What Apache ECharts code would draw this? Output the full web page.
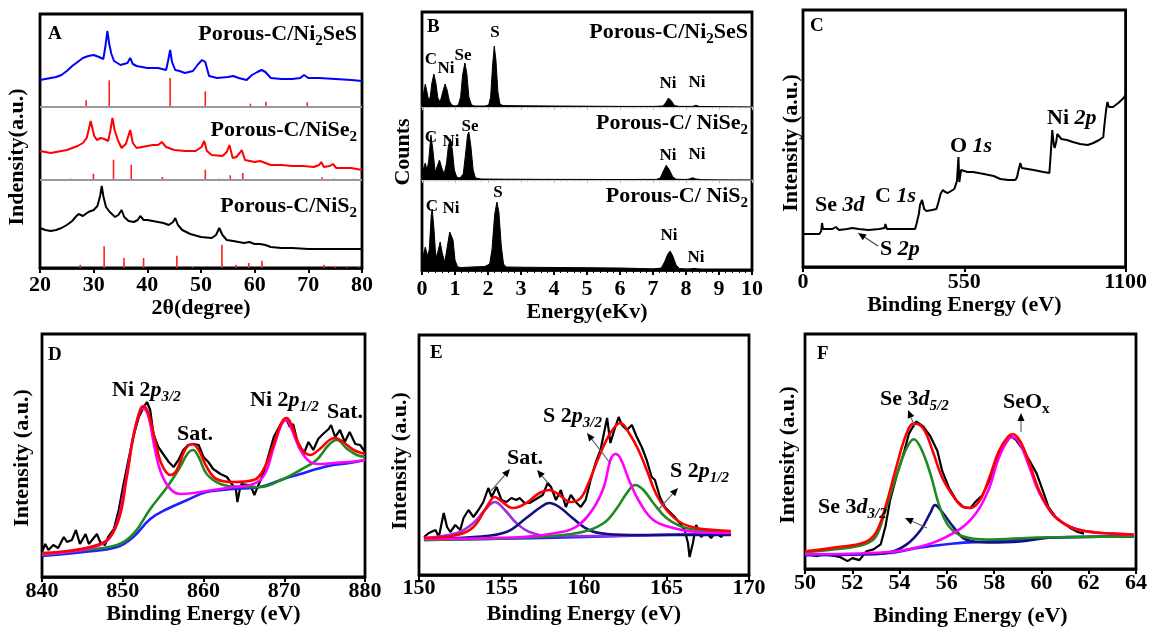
<!DOCTYPE html>
<html><head><meta charset="utf-8">
<script src="https://cdn.jsdelivr.net/npm/echarts@6/dist/echarts.min.js"></script>
<style>html,body{margin:0;padding:0;background:#fff}#c{width:1150px;height:628px}</style>
</head><body><div id="c"></div><script>
const FONT = "'Liberation Serif','Times New Roman',serif";

// ---------- Panel A : XRD (intensity in a.u., stacked) ----------
const aBlue = [[20,188],[21,189],[22,190],[23,191],[24,193],[25,197],[26,202],[27,206],[28,210],[29,212],[30,213],[31,211],[31.8,209],[32.2,222],[32.55,237],[32.9,224],[33.3,214],[33.8,207],[35,203],[36.3,205],[36.8,210],[37.3,204],[38,202],[40,200],[42,200],[43.5,198],[43.9,208],[44.25,218],[44.6,206],[45.2,198],[46,197],[47,195],[48.5,197],[49.5,204],[50.2,208],[50.8,206],[51.5,192],[53,190],[55,191],[56,192],[57,190],[58.5,188],[59.5,193],[60.5,196],[61.3,198],[62,196],[63,190],[65,189],[67,189],[68.5,190],[69.2,193],[70,190],[72,190],[75,189],[78,188],[80,187]];
const aRed = [[20,117],[21,116],[22,115],[23,116],[24,117],[25,118],[26,120],[27,122],[28,125],[28.7,130],[29.45,147],[30.1,132],[30.6,128],[31.3,130],[32,129],[32.7,127],[33.1,137],[33.5,150],[33.9,138],[34.5,128],[35.2,120],[36,124],[36.8,138],[37.3,125],[38,120],[39,121],[40,122],[41,123],[42,123],[42.7,126],[43.5,121],[45,118],[47,117],[49,117],[50.1,121],[50.6,127],[51.1,117],[52,113],[54,112],[54.8,116],[55.3,123],[55.9,110],[56.6,111],[57.2,115],[57.6,118],[58.2,108],[60,106],[61,107],[61.5,106],[63,103],[65,103],[67,102],[69,102],[71,101],[72,103],[72.4,106],[72.9,101],[74,102],[74.6,104],[75.2,100],[78,100],[80,98]];
const aBlack = [[20,40],[21,38],[22,37],[23,38],[24,40],[25,43],[26,47],[26.8,52],[27.2,54],[28,52],[29,56],[30,58],[30.7,62],[31.2,72],[31.5,82],[31.8,72],[32.3,61],[33,56],[34,51],[34.6,53],[35.2,58],[35.7,51],[36.5,47],[37.5,46],[38.2,48],[38.7,52],[39.3,48],[40,48],[41,47],[42,46],[43,45],[44,43],[44.8,46],[45.2,50],[45.7,43],[46.5,38],[48,34],[50,31],[52,30],[52.8,33],[53.4,40],[54,33],[54.8,28],[56,27],[57,26],[58,25],[59,26],[60,24],[61,24],[62,23],[63,21],[65,20],[67,20],[70,19],[75,19],[80,19]];
const aLevels = [161, 88, 0];            // baselines of the three reference patterns
const aStickPos1 = [28.6,32.9,44.25,50.8,59.2,62.1,69.8];
const aStickTop1 = [167.7,187.7,190,176.7,164.3,166.3,165.7];
const aStickPos2 = [25.8,29.95,33.7,37.0,42.8,50.8,53.3,55.45,57.8,62.1,72.55,74.7,78.5];
const aStickTop2 = [89.3,94.3,108.3,103.3,91,98.3,89.3,92.7,95,89,90.7,89.3,89.3];
const aStickPos3 = [27.5,31.95,35.65,39.3,45.5,48.4,53.9,56.5,58.9,61.35,72.9,75.0,77.2,79.4];
const aStickTop3 = [3.3,21.7,10,10,12.3,1,23.3,3.3,5,7.3,3.3,1.7,1.7,0.7];

// ---------- Panel B : EDS ----------
const bNi2SeS = [[0,4],[0.05,14],[0.1,23],[0.15,15],[0.2,7],[0.25,10],[0.3,24],[0.36,33],[0.42,24],[0.48,9],[0.55,5],[0.62,14],[0.7,23],[0.76,17],[0.83,6],[0.9,2],[1.0,1],[1.1,2],[1.17,10],[1.23,32],[1.3,44],[1.36,33],[1.42,10],[1.5,2],[1.6,1],[1.9,1],[2.02,2],[2.08,10],[2.14,42],[2.19,61],[2.24,47],[2.3,15],[2.36,3],[2.45,1.5],[3,1.2],[4,1],[5,0.8],[6,0.6],[7,0.6],[7.3,1],[7.38,4],[7.47,9],[7.56,6],[7.65,1.5],[7.8,0.6],[8.2,0.6],[8.3,1.7],[8.4,0.6],[9,0.3],[10,0]];
const bNiSe2 = [[0,4],[0.05,12],[0.1,17],[0.15,10],[0.2,18],[0.27,45],[0.33,30],[0.4,8],[0.46,10],[0.53,20],[0.6,12],[0.67,6],[0.74,16],[0.8,34],[0.86,41],[0.92,30],[0.98,10],[1.05,3],[1.15,2],[1.25,6],[1.32,26],[1.38,45],[1.42,48],[1.48,34],[1.55,10],[1.62,2],[1.8,1],[2.5,0.8],[4,0.6],[6,0.5],[7.1,0.6],[7.22,2],[7.3,8],[7.4,14.7],[7.5,10],[7.6,3],[7.7,0.8],[8.0,0.5],[8.1,1],[8.2,2.3],[8.3,1],[8.5,0.3],[9,0.1],[10,0]];
const bNiS2 = [[0,5],[0.05,16],[0.1,23],[0.16,14],[0.22,20],[0.28,55],[0.31,61],[0.36,42],[0.42,12],[0.48,18],[0.55,28],[0.62,16],[0.69,8],[0.76,22],[0.84,38],[0.88,40],[0.94,30],[1.0,10],[1.08,3],[1.2,2.5],[1.5,3],[1.9,3.5],[2.05,6],[2.12,20],[2.2,55],[2.27,68],[2.33,58],[2.4,25],[2.47,6],[2.55,3],[3,2.8],[4,2.5],[5,2.3],[6,2],[6.6,1.5],[7,1],[7.25,2],[7.35,8],[7.45,16],[7.52,19],[7.6,14],[7.7,5],[7.8,1.5],[8.0,0.8],[8.15,1],[8.25,1.7],[8.35,1],[8.5,0.5],[9,0.2],[10,0]];

// ---------- Panel C : XPS survey ----------
const cSurvey = [[0,33],[56,33],[62,36],[65,44],[68,38],[73,38],[100,38],[112,40],[123,37],[150,38],[168,39],[190,38],[224,37],[260,38],[278,39],[281,43],[286,38],[330,38],[382,38],[387,43],[395,53],[399,62],[406,67],[410,62],[413,58],[421,56],[440,57],[455,58],[462,65],[469,73],[477,77],[485,75],[494,74],[505,76],[516,78],[525,86],[530,110],[533,85],[539,97],[550,96],[561,95],[580,95],[617,93],[650,91],[673,88],[700,87],[724,87],[730,90],[735,97],[741,104],[746,99],[750,98],[786,97],[820,95],[840,94],[844,110],[850,137],[853,128],[855,123],[858,119],[861,118],[864,126],[867,133],[870,131],[873,131],[881,128],[900,127],[920,125],[945,123],[971,122],[990,124],[1010,127],[1024,130],[1027,140],[1030,148],[1034,158],[1038,165],[1043,160],[1049,158],[1057,160],[1066,162],[1075,164],[1086,167],[1093,169],[1100,172]];

// ---------- Panel D : Ni 2p ----------
const dRaw = [[840,25],[840.4,33],[840.8,27],[841.4,32],[842,29],[842.7,40],[843.1,35],[843.7,37],[844.2,47],[844.7,33],[845.4,43],[845.8,33],[846.3,38],[846.8,43],[847.2,35],[847.8,32],[848.2,40],[848.9,48],[849.5,67],[850.1,93],[850.7,117],[851.3,140],[852,160],[852.6,170],[853,175],[853.4,167],[853.8,143],[854.4,130],[855,123],[855.7,115],[856.3,110],[856.9,117],[857.5,127],[858.1,132],[858.8,133],[859.4,132],[860,120],[860.6,115],[861.2,108],[862.1,103],[862.9,100],[863.5,93],[864,88],[864.2,75],[864.5,88],[864.7,93],[865.6,92],[866,88],[866.3,82],[866.6,88],[866.8,92],[867.4,103],[868,120],[868.7,140],[869.5,152],[870.2,159],[870.7,150],[871.1,153],[871.8,130],[872.4,123],[873,135],[873.6,127],[874.2,138],[874.8,143],[875.5,148],[875.8,152],[876.3,140],[876.9,147],[877.5,135],[878.1,145],[878.8,133],[879.4,132],[880,125]];
const dEnvelope = [[840,24],[847.2,33],[849.3,53],[850.5,100],[851.3,140],[852.2,168],[852.6,171],[853.2,163],[854,137],[854.8,113],[855.9,102],[856.7,107],[857.7,127],[858.6,133],[859.4,127],[860.4,110],[861.6,98],[863.7,95],[866.2,97],[867.4,107],[868.7,133],[869.7,155],[870.3,159],[870.9,152],[872,130],[873.2,122],[874.4,128],[875.6,137],[876.3,139],[877.3,135],[878.6,127],[880,123]];
const dMain = [[840,23],[847.2,32],[849.1,50],[850.3,93],[851.3,140],[852.2,167],[852.6,168],[853.2,160],[854,127],[854.8,103],[855.9,88],[857.1,83],[858.8,84],[861.2,87],[863.7,90],[866.2,93],[867.6,103],[868.7,130],[869.7,153],[870.3,157],[870.9,148],[872,127],[873.2,115],[874.4,113],[876.1,114],[878.1,115],[880,117]];
const dSat = [[840,22],[845.2,27],[849.3,32],[851.3,43],[853.4,68],[855.5,90],[857.1,110],[858,123],[858.7,127],[859.4,120],[860.4,103],[862.1,93],[864.5,90],[867,90],[869.9,98],[872,107],[874,117],[875.5,132],[876.5,137],[877.8,128],[879,122],[880,120]];
const dBack = [[840,21],[845.2,25],[849.3,30],[851.3,40],[853.4,58],[855.5,68],[858,77],[860.4,85],[863.7,88],[867,90],[869.9,98],[872,103],[874,108],[876.1,112],[878.1,114],[880,117]];

// ---------- Panel E : S 2p ----------
const eRaw = [[150.3,38],[150.6,42],[151,45],[151.2,38],[151.5,62],[151.7,48],[151.9,43],[152.2,50],[152.5,45],[152.7,57],[153,65],[153.3,58],[153.6,65],[153.9,73],[154.2,87],[154.4,78],[154.7,88],[155,75],[155.3,73],[155.6,77],[155.9,75],[156.1,77],[156.4,72],[156.7,72],[157.1,76],[157.5,80],[157.8,92],[158,88],[158.3,75],[158.6,85],[158.9,68],[159.2,80],[159.5,73],[159.8,68],[160.1,75],[160.4,95],[160.7,112],[161,125],[161.4,157],[161.6,132],[161.8,143],[162.1,158],[162.3,150],[162.6,145],[162.9,150],[163.2,138],[163.5,128],[163.8,115],[164.1,98],[164.3,95],[164.6,78],[164.9,68],[165.2,63],[165.5,58],[165.8,52],[166.1,45],[166.3,32],[166.4,18],[166.6,32],[166.8,50],[167.1,38],[167.4,43],[167.7,37],[168,43],[168.3,38],[168.6,43],[168.9,40]];
const eEnvelope = [[150.3,37],[152.3,40],[153.3,48],[154.1,68],[154.6,78],[154.9,75],[155.7,67],[156.5,72],[157.3,82],[157.9,85],[158.5,80],[159.2,73],[159.8,77],[160.3,93],[160.9,118],[161.6,142],[162.2,152],[162.8,140],[163.3,125],[163.8,105],[164.4,80],[165,65],[165.8,53],[166.8,47],[167.9,45],[168.9,44]];
const eSat1 = [[150.3,37],[152.3,42],[153.3,52],[154,65],[154.6,73],[155.2,65],[155.9,52],[156.7,43],[157.9,39],[160.3,39],[164.4,40],[168.9,41]];
const eSat2 = [[150.3,36],[153.3,38],[155.3,43],[156.5,57],[157.3,67],[157.9,72],[158.5,68],[159.3,57],[160.3,45],[161.4,41],[163.4,40],[168.9,40]];
const eP32 = [[150.3,36],[156.3,38],[158.3,42],[159.5,48],[160.5,65],[161.2,88],[161.6,115],[161.9,121],[162.2,117],[162.8,92],[163.4,72],[164.2,55],[165.4,47],[166.8,43],[168.9,42]];
const eP12 = [[150.3,35],[157.3,38],[159.9,43],[161.2,52],[162,67],[162.6,82],[163.1,90],[163.6,85],[164.2,72],[165,57],[166,48],[167.4,44],[168.9,42]];
const eBack = [[150.3,35],[160,38],[168.9,42]];

// ---------- Panel F : Se 3d ----------
const fRaw = [[50,15],[50.3,14],[50.5,13],[50.8,15],[51,14],[51.3,13],[51.5,12],[51.8,8],[52,11],[52.3,9],[52.6,18],[52.9,20],[53.2,25],[53.4,43],[53.6,70],[53.9,97],[54.2,120],[54.4,138],[54.7,150],[55,145],[55.3,135],[55.6,120],[55.8,100],[56.1,82],[56.4,70],[56.7,63],[57,62],[57.2,68],[57.5,75],[57.8,90],[58.1,112],[58.4,125],[58.7,135],[58.9,132],[59.2,122],[59.5,110],[59.8,97],[60.1,77],[60.3,63],[60.6,53],[60.9,47],[61.2,42],[61.5,38],[61.8,36]];
const fEnvelope = [[50,18],[51.3,22],[52.5,27],[53,37],[53.4,63],[53.9,107],[54.3,138],[54.6,148],[55,143],[55.4,120],[55.8,93],[56.3,73],[56.7,63],[57,62],[57.4,70],[57.8,93],[58.2,120],[58.6,135],[58.8,137],[59.1,130],[59.5,107],[59.9,80],[60.5,55],[61.2,43],[62,38],[63,36],[63.9,35]];
const fD52 = [[50,17],[51.3,20],[52.5,25],[53,33],[53.4,60],[53.9,97],[54.3,123],[54.6,132],[54.9,123],[55.3,97],[55.7,63],[56.1,43],[56.7,33],[57.7,30],[59.8,32],[63.9,33]];
const fD32 = [[50,15],[52.7,15],[53.6,17],[54.3,25],[54.9,40],[55.3,57],[55.5,65],[55.8,58],[56.3,42],[56.8,30],[57.7,27],[59.1,28],[60.5,32],[63.9,33]];
const fSeOx = [[50,15],[53.4,17],[54.9,23],[56,33],[57,50],[57.7,77],[58.2,113],[58.6,132],[58.8,134],[59.1,127],[59.5,103],[59.9,78],[60.5,55],[61.2,43],[62,38],[63,36],[63.9,35]];
const fBack = [[50,14],[53.4,16],[54.9,22],[56.3,26],[57.7,28],[59.1,30],[60.5,32],[63.9,33]];

// ---------- helpers ----------
const lab = (sz) => ({color:'#000', fontFamily:FONT, fontWeight:'bold', fontSize:sz});
function xAx(gi, min, max, interval, name, margin, gap, extra) {
  return Object.assign({
    type:'value', gridIndex:gi, min, max, interval,
    axisLine:{show:true, onZero:false, lineStyle:{color:'#000', width:2.5}},
    axisTick:{show:true, inside:false, length:5, lineStyle:{color:'#000', width:2}},
    axisLabel:Object.assign(lab(22), {margin, formatter:(v)=>String(v)}),
    splitLine:{show:false},
    name, nameLocation:'middle', nameGap:gap, nameTextStyle:lab(22)
  }, extra || {});
}
function yAx(gi, max) {
  return {type:'value', gridIndex:gi, min:0, max, show:true,
    axisLine:{show:false}, axisTick:{show:false}, axisLabel:{show:false}, splitLine:{show:false}};
}
function ln(gi, data, color, width, smooth, extra) {
  return Object.assign({type:'line', xAxisIndex:gi, yAxisIndex:gi, data, showSymbol:false, symbol:'none',
    smooth: smooth || false, lineStyle:{color, width}, silent:true}, extra || {});
}
function sticks(gi, pos, tops, base, color) {
  return {type:'custom', xAxisIndex:gi, yAxisIndex:gi, silent:true, z:1,
    data: pos.map((p,i)=>[p, base, tops[i]]),
    encode:{x:0, y:[1,2]},
    renderItem:(params, api)=>{
      const a = api.coord([api.value(0), api.value(1)]);
      const b = api.coord([api.value(0), api.value(2)]);
      return {type:'line', shape:{x1:a[0], y1:a[1], x2:b[0], y2:b[1]}, style:{stroke:color, lineWidth:1.6}};
    }};
}
function area(gi, data) {
  return ln(gi, data, '#000', 1, false, {areaStyle:{color:'#000', origin:'start', opacity:1}});
}
function richFor(size, sub) {
  const base = {fontFamily:FONT, fontWeight:'bold', fontSize:size, lineHeight:size+8, fill:'#000'};
  const s = {fontFamily:FONT, fontWeight:'bold', fontSize:sub, lineHeight:sub, verticalAlign:'bottom', fill:'#000'};
  return {n:base, i:Object.assign({}, base, {fontStyle:'italic'}), s:s, si:Object.assign({}, s, {fontStyle:'italic'})};
}
const R22 = richFor(22, 15), R17 = richFor(17, 12), R19 = richFor(19, 13);
function txt(x, y, text, align, rich) {
  return {type:'text', x, y, silent:true, z:100,
    style:{text, rich: rich || R22, align: align || 'left', verticalAlign:'middle', textAlign: align || 'left', textVerticalAlign:'middle', fill:'#000',
      fontFamily:FONT, fontWeight:'bold', fontSize:22}};
}
function vtxt(x, y, text) {
  return {type:'text', x, y, rotation:Math.PI/2, silent:true, z:100,
    style:{text, align:'center', verticalAlign:'middle', textAlign:'center', textVerticalAlign:'middle', fill:'#000',
      fontFamily:FONT, fontWeight:'bold', fontSize:22}};
}
function arrow(x1, y1, x2, y2, color) {
  const ang = Math.atan2(y2-y1, x2-x1), L = 8, W = 3.5;
  const bx = x2 - L*Math.cos(ang), by = y2 - L*Math.sin(ang);
  const px = -Math.sin(ang)*W, py = Math.cos(ang)*W;
  return [
    {type:'line', silent:true, z:100, shape:{x1, y1, x2:bx, y2:by}, style:{stroke:color || '#666', lineWidth:1.2}},
    {type:'polygon', silent:true, z:100, shape:{points:[[x2,y2],[bx+px,by+py],[bx-px,by-py]]}, style:{fill:'#000'}}
  ];
}

const border = {show:true, borderColor:'#000', borderWidth:2.8, backgroundColor:'transparent'};
const grids = [
  Object.assign({left:40, top:14, width:322, height:254}, border),     // 0 A
  Object.assign({left:422, top:12, width:330, height:258}, border),    // 1 B frame
  {left:422, top:12, width:330, height:95},                            // 2 B1
  {left:422, top:107, width:330, height:73},                           // 3 B2
  {left:422, top:180, width:330, height:90},                           // 4 B3
  Object.assign({left:803, top:10, width:327, height:257}, border),    // 5 C
  Object.assign({left:42, top:334, width:323, height:243}, border),    // 6 D
  Object.assign({left:419, top:335, width:330, height:240}, border),   // 7 E
  Object.assign({left:805, top:334, width:332, height:239}, border)    // 8 F
];
const divAxis = (gi) => ({type:'value', gridIndex:gi, min:0, max:10, interval:1,
  axisLine:{show:true, onZero:false, lineStyle:{color:'#bdbdbd', width:1.5}},
  axisTick:{show:true, length:3, lineStyle:{color:'#bdbdbd', width:1}},
  minorTick:{show:true, splitNumber:5, length:2, lineStyle:{color:'#cfcfcf', width:1}},
  axisLabel:{show:false}, splitLine:{show:false}});

const xAxes = [
  xAx(0, 20, 80, 10, '2θ(degree)', 6, 28),
  {type:'value', gridIndex:1, min:0, max:10, show:false},
  divAxis(2),
  divAxis(3),
  xAx(4, 0, 10, 1, 'Energy(eKv)', 8, 28, {minorTick:{show:true, splitNumber:5, length:3, lineStyle:{color:'#000', width:1}}}),
  xAx(5, 0, 1100, 550, 'Binding Energy (eV)', 4, 19),
  xAx(6, 840, 880, 10, 'Binding Energy (eV)', 3, 22),
  xAx(7, 150, 170, 5, 'Binding Energy (eV)', 2, 28),
  xAx(8, 50, 64, 2, 'Binding Energy (eV)', 3, 36)
];
const yAxes = [yAx(0,254), {type:'value', gridIndex:1, min:0, max:1, show:false}, yAx(2,95), yAx(3,73), yAx(4,90),
  yAx(5,257), yAx(6,243), yAx(7,240), yAx(8,239)];

const series = [
  // A
  sticks(0, aStickPos1, aStickTop1, aLevels[0], '#ff2020'),
  sticks(0, aStickPos2, aStickTop2, aLevels[1], '#ff2020'),
  sticks(0, aStickPos3, aStickTop3, aLevels[2], '#ff2020'),
  ln(0, aBlue, '#0000ff', 2),
  ln(0, aRed, '#ff0000', 2),
  ln(0, aBlack, '#000', 2, false, {markLine:{silent:true, symbol:['none','none'], label:{show:false},
    lineStyle:{color:'#9a9a9a', width:2, type:'solid'}, data:[{yAxis:aLevels[0]},{yAxis:aLevels[1]}]}}),
  // B
  area(2, bNi2SeS), area(3, bNiSe2), area(4, bNiS2),
  // C
  ln(5, cSurvey, '#000', 2),
  // D
  ln(6, dRaw, '#000', 2.2),
  ln(6, dBack, '#1f1fff', 2.6, 0.4),
  ln(6, dSat, '#1f8a1f', 2.6, 0.4),
  ln(6, dMain, '#ff00ff', 2.6, 0.4),
  ln(6, dEnvelope, '#ff0000', 2.6, 0.4),
  // E
  ln(7, eRaw, '#000', 2.2),
  ln(7, eBack, '#1f1fff', 2.6, 0.4),
  ln(7, eSat1, '#9b30e6', 2.6, 0.4),
  ln(7, eSat2, '#12127f', 2.6, 0.4),
  ln(7, eP12, '#1f8a1f', 2.6, 0.4),
  ln(7, eP32, '#ff00ff', 2.6, 0.4),
  ln(7, eEnvelope, '#ff0000', 2.6, 0.4),
  // F
  ln(8, fRaw, '#000', 2.2),
  ln(8, fBack, '#1f1fff', 2.6, 0.4),
  ln(8, fD32, '#12127f', 2.6, 0.4),
  ln(8, fD52, '#1f8a1f', 2.6, 0.4),
  ln(8, fSeOx, '#ff00ff', 2.6, 0.4),
  ln(8, fEnvelope, '#ff0000', 2.6, 0.4)
];

const graphics = [
  // A
  txt(48, 34, '{n|A}', 'left', R19),
  txt(357, 34, '{n|Porous-C/Ni}{s|2}{n|SeS}', 'right'),
  txt(357, 130, '{n|Porous-C/NiSe}{s|2}', 'right'),
  txt(357, 206, '{n|Porous-C/NiS}{s|2}', 'right'),
  vtxt(17, 157, 'Indensity(a.u.)'),
  // B
  txt(427, 27, '{n|B}', 'left', R19),
  txt(748, 32, '{n|Porous-C/Ni}{s|2}{n|SeS}', 'right'),
  txt(748, 123, '{n|Porous-C/ NiSe}{s|2}', 'right'),
  txt(748, 196, '{n|Porous-C/ NiS}{s|2}', 'right'),
  txt(431, 60, '{n|C}', 'center', R17), txt(446, 69, '{n|Ni}', 'center', R17), txt(463, 56, '{n|Se}', 'center', R17),
  txt(495, 33, '{n|S}', 'center', R17), txt(668, 84, '{n|Ni}', 'center', R17), txt(697, 83, '{n|Ni}', 'center', R17),
  txt(431, 138, '{n|C}', 'center', R17), txt(451, 142, '{n|Ni}', 'center', R17), txt(470, 127, '{n|Se}', 'center', R17),
  txt(668, 156, '{n|Ni}', 'center', R17), txt(697, 155, '{n|Ni}', 'center', R17),
  txt(432, 207, '{n|C}', 'center', R17), txt(451, 209, '{n|Ni}', 'center', R17), txt(498, 193, '{n|S}', 'center', R17),
  txt(669, 236, '{n|Ni}', 'center', R17), txt(696, 258, '{n|Ni}', 'center', R17),
  vtxt(403, 152, 'Counts'),
  // C
  txt(810, 26, '{n|C}', 'left', R19),
  txt(1047, 118, '{n|Ni }{i|2p}'),
  txt(950, 146, '{n|O }{i|1s}'),
  txt(875, 196, '{n|C }{i|1s}'),
  txt(815, 205, '{n|Se }{i|3d}'),
  txt(880, 249, '{n|S }{i|2p}'),
  ...arrow(878, 246, 858, 233, '#444'),
  vtxt(791, 143, 'Intensity (a.u.)'),
  // D
  txt(48, 355, '{n|D}', 'left', R19),
  txt(112, 390, '{n|Ni 2}{i|p}{si|3/2}'),
  txt(177, 434, '{n|Sat.}'),
  txt(250, 400, '{n|Ni 2}{i|p}{si|1/2}'),
  txt(327, 412, '{n|Sat.}'),
  vtxt(22, 458, 'Intensity (a.u.)'),
  // E
  txt(430, 353, '{n|E}', 'left', R19),
  txt(507, 458, '{n|Sat.}'),
  txt(543, 416, '{n|S 2}{i|p}{si|3/2}'),
  txt(670, 471, '{n|S 2}{i|p}{si|1/2}'),
  ...arrow(490, 492, 510, 469), ...arrow(548, 483, 537, 470),
  ...arrow(610, 463, 587, 433), ...arrow(658, 510, 678, 488),
  vtxt(400, 461, 'Intensity (a.u.)'),
  // F
  txt(817, 354, '{n|F}', 'left', R19),
  txt(880, 399, '{n|Se 3}{i|d}{si|5/2}'),
  txt(1003, 402, '{n|SeO}{s|x}'),
  txt(818, 507, '{n|Se 3}{i|d}{si|3/2}'),
  ...arrow(915, 427, 908, 410), ...arrow(1021, 432, 1021, 413), ...arrow(927, 528, 905, 518),
  vtxt(788, 455, 'Intensity (a.u.)')
];

const chart = echarts.init(document.getElementById('c'), null, {renderer:'canvas'});
chart.setOption({
  backgroundColor:'#fff', animation:false,
  grid:grids, xAxis:xAxes, yAxis:yAxes, series, graphic:{elements:graphics}
});
</script></body></html>
